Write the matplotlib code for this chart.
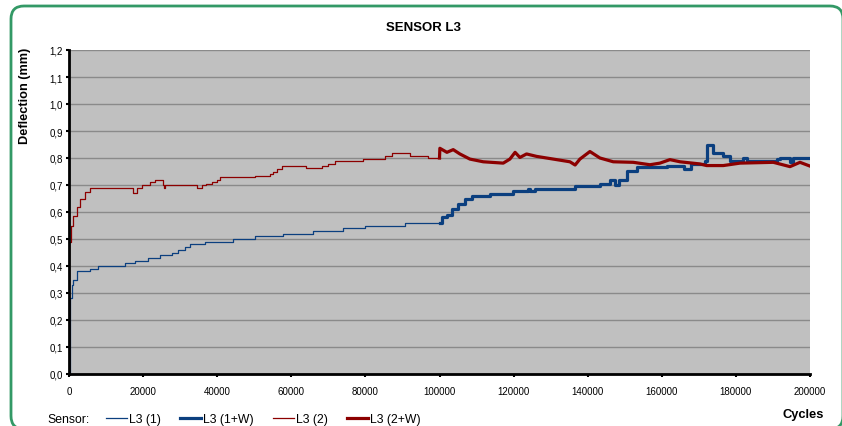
import matplotlib
matplotlib.use("Agg")
import matplotlib.pyplot as plt
import matplotlib.ticker as ticker
from matplotlib.patches import FancyBboxPatch

plt.rcParams["font.family"] = ["Liberation Sans", "DejaVu Sans"]

# L3 (1): first loading phase, stepwise readings
l3_1_cycles = [0, 300, 700, 1200, 2200, 5700, 7900, 15100, 17800, 21300, 24600,
               27700, 29400, 31300, 32700, 36700, 44300, 50200, 57700, 65900,
               74000, 80000, 90700, 100000]
l3_1_defl = [0.0, 0.28, 0.33, 0.35, 0.38, 0.39, 0.40, 0.41, 0.42, 0.43, 0.44,
             0.45, 0.46, 0.47, 0.48, 0.49, 0.50, 0.51, 0.52, 0.53,
             0.54, 0.55, 0.56, 0.56]

# L3 (1+W): continuation with water
l3_1w_cycles = [100000, 100600, 102000, 103300, 105100, 106900, 108700, 113600,
                119800, 123900, 124500, 125800, 131200, 136600, 143300, 146000,
                147500, 148500, 150500, 153200, 161300, 166000, 167500, 168000,
                171700, 172100, 173900, 176600, 178400, 181900, 183000, 191000,
                192000, 194600, 195500, 200000]
l3_1w_defl = [0.56, 0.58, 0.59, 0.61, 0.63, 0.648, 0.658, 0.667,
              0.679, 0.685, 0.676, 0.685, 0.685, 0.697, 0.704, 0.72,
              0.70, 0.72, 0.753, 0.765, 0.772, 0.76, 0.76, 0.778,
              0.79, 0.848, 0.82, 0.809, 0.79, 0.799, 0.79, 0.796,
              0.80, 0.786, 0.80, 0.80]

# L3 (2): first loading phase, stepwise readings
l3_2_cycles = [0, 100, 540, 1170, 2070, 2970, 4320, 5670, 17360, 18440, 19600,
               21860, 23200, 25400, 25700, 26000, 34450, 35800, 37000, 38500,
               39860, 40750, 50200, 54250, 55150, 56060, 57400, 64100, 68200,
               70000, 71800, 79400, 85300, 87100, 92000, 96800, 100000]
l3_2_defl = [0.0, 0.49, 0.55, 0.586, 0.617, 0.648, 0.673, 0.69, 0.672, 0.69, 0.70,
             0.71, 0.72, 0.70, 0.69, 0.70, 0.69, 0.70, 0.705, 0.71,
             0.72, 0.73, 0.735, 0.74, 0.75, 0.76, 0.769, 0.762, 0.769,
             0.778, 0.788, 0.796, 0.807, 0.818, 0.809, 0.799, 0.799]

# L3 (2+W): continuation with water
l3_2w_cycles = [100000, 100100, 102000, 103700, 105500, 108200, 111800, 117200,
                119000, 120400, 121700, 123500, 126200, 130700, 135200, 136600,
                137900, 140600, 143300, 146900, 152300, 156800, 159500, 162200,
                164900, 170300, 172100, 176600, 181100, 190100, 194600, 197300,
                200000]
l3_2w_defl = [0.80, 0.836, 0.821, 0.831, 0.815, 0.796, 0.786, 0.781,
              0.796, 0.821, 0.802, 0.815, 0.806, 0.796, 0.786, 0.774,
              0.796, 0.824, 0.80, 0.786, 0.784, 0.775, 0.781, 0.794,
              0.786, 0.778, 0.772, 0.772, 0.781, 0.784, 0.768, 0.784,
              0.77]

BLUE = "#0B3F7F"
RED = "#8C0000"
GREEN = "#339966"

fig = plt.figure(figsize=(8.42, 4.27), dpi=100)
ax = fig.add_axes([69 / 842, 52 / 427, 741 / 842, 324 / 427])
ax.set_facecolor("#C0C0C0")

ax.plot(l3_1_cycles, l3_1_defl, color=BLUE, lw=0.9, drawstyle="steps-post",
        label="L3 (1)")
ax.plot(l3_1w_cycles, l3_1w_defl, color=BLUE, lw=2.3, drawstyle="steps-post",
        label="L3 (1+W)")
ax.plot(l3_2_cycles, l3_2_defl, color=RED, lw=0.9, drawstyle="steps-post",
        label="L3 (2)")
ax.plot(l3_2w_cycles, l3_2w_defl, color=RED, lw=2.3, label="L3 (2+W)")

ax.set_xlim(0, 200000)
ax.set_ylim(0, 1.2)
ax.xaxis.set_major_locator(ticker.MultipleLocator(20000))
ax.yaxis.set_major_locator(ticker.MultipleLocator(0.1))
ax.yaxis.set_major_formatter(
    ticker.FuncFormatter(lambda v, _: f"{v:.1f}".replace(".", ",")))
ax.grid(axis="y", color="#8A8A8A", lw=1.0)
ax.set_axisbelow(True)

for side in ("top", "right"):
    ax.spines[side].set_visible(False)
for side in ("left", "bottom"):
    ax.spines[side].set_linewidth(2.0)
    ax.spines[side].set_color("black")
ax.tick_params(axis="both", direction="out", length=2.5, width=1.5,
               labelsize=7, color="black")
ax.tick_params(axis="x", pad=6)
ax.tick_params(axis="y", pad=2)

fig.text(424 / 842, 1 - 28 / 427, "SENSOR L3", ha="center", va="center",
         fontsize=9.5, fontweight="bold")
fig.text(25 / 842, 1 - 96 / 427, "Deflection (mm)", ha="center", va="center",
         rotation=90, fontsize=9.2, fontweight="bold")
fig.text(803 / 842, 1 - 415 / 427, "Cycles", ha="center", va="center",
         fontsize=9.3, fontweight="bold")

# legend row along the bottom edge
fig.text(47 / 842, 1 - 420 / 427, "Sensor:", ha="left", va="center",
         fontsize=8.8)
fig.legend(loc="center left", bbox_to_anchor=(106 / 842, 1 - 420 / 427),
           ncol=4, frameon=False, fontsize=8.8, handlelength=1.75,
           handletextpad=0.15, columnspacing=1.55, borderpad=0,
           borderaxespad=0)

# rounded frame around the chart
frame = FancyBboxPatch((11, -3), 832, 423,
                       boxstyle="round,pad=0,rounding_size=13",
                       transform=None, fill=False, edgecolor=GREEN, lw=2.0,
                       clip_on=False)
fig.patches.append(frame)

fig.savefig("out.png", dpi=100)
